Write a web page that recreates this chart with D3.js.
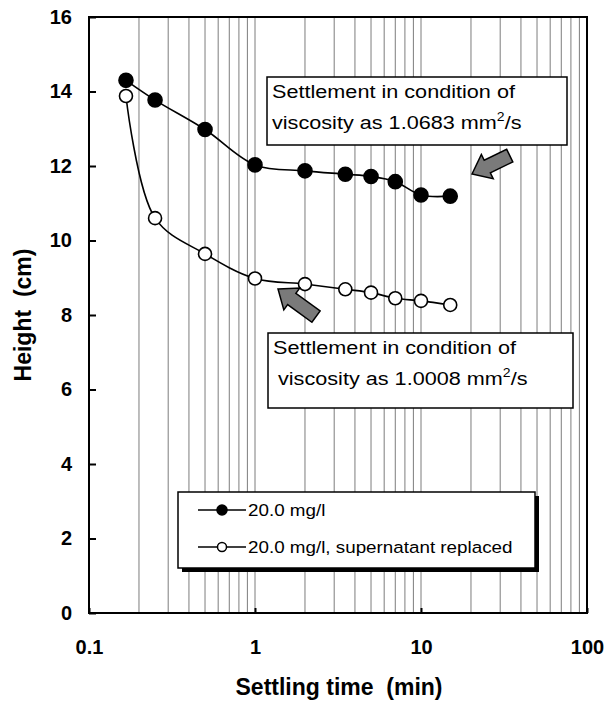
<!DOCTYPE html>
<html>
<head>
<meta charset="utf-8">
<script src="https://cdn.jsdelivr.net/npm/d3@7"></script>
<style>
  body { margin: 0; background: #fff; }
  text { font-family: "Liberation Sans", Arial, sans-serif; }
  .tick text { font-weight: bold; font-size: 20px; }
</style>
</head>
<body>
<div id="canvas"></div>
<script>
"use strict"
// canvas size
let svgWidth = 606;
let svgHeight = 703;

// plot box (in px)
let margin = { top: 17, right: 19, bottom: 90, left: 89 };

// data
let timeMin = [0.167, 0.25, 0.5, 1, 2, 3.5, 5, 7, 10, 15];
let heightNormal = [14.3, 13.77, 12.98, 12.03, 11.87, 11.78, 11.72, 11.58, 11.22, 11.19];
let heightReplaced = [13.88, 10.6, 9.64, 8.98, 8.83, 8.69, 8.6, 8.45, 8.38, 8.27];
let seriesNames = ["20.0 mg/l", "20.0 mg/l, supernatant replaced"];
let xTickValues = [0.1, 1, 10, 100];
let yTickValues = [0, 2, 4, 6, 8, 10, 12, 14, 16];

let svg = d3.select("#canvas")
    .append("svg")
    .attr("width", svgWidth)
    .attr("height", svgHeight);

let w = svgWidth - margin.left - margin.right;
let h = svgHeight - margin.top - margin.bottom;

let xScale = d3.scaleLog().domain([0.1, 100]).range([margin.left, margin.left + w]);
let yScale = d3.scaleLinear().domain([0, 16]).range([margin.top + h, margin.top]);

// vertical grid at every minor log step
let gridValues = [];
[0.1, 1, 10].forEach(function(dec) {
    for (let k = 2; k <= 9; k++) gridValues.push(dec * k);
});
gridValues.push(1, 10);

svg.append("g")
    .selectAll("line")
    .data(gridValues)
    .join("line")
    .attr("x1", d => xScale(d)).attr("x2", d => xScale(d))
    .attr("y1", margin.top).attr("y2", margin.top + h)
    .attr("stroke", "#6e6e6e")
    .attr("stroke-width", 0.9);

// axes: ticks point inward
let xAxis = d3.axisBottom(xScale)
    .tickValues(xTickValues)
    .tickSize(-5)
    .tickPadding(27)
    .tickFormat(d3.format("~g"));
let gx = svg.append("g")
    .attr("transform", "translate(0," + (margin.top + h) + ")")
    .call(xAxis);

let yAxis = d3.axisLeft(yScale)
    .tickValues(yTickValues)
    .tickSize(-7)
    .tickPadding(17);
let gy = svg.append("g")
    .attr("transform", "translate(" + margin.left + ",0)")
    .call(yAxis);

[gx, gy].forEach(function(g) {
    g.select(".domain").remove();
    g.selectAll(".tick line").attr("stroke", "#000").attr("stroke-width", 2);
    g.selectAll(".tick text").attr("fill", "#000");
});

// plot frame
svg.append("rect")
    .attr("x", margin.left).attr("y", margin.top)
    .attr("width", w).attr("height", h)
    .attr("fill", "none")
    .attr("stroke", "#000")
    .attr("stroke-width", 2);

// axis titles
svg.append("text")
    .attr("x", 339)
    .attr("y", 695)
    .attr("text-anchor", "middle")
    .style("font-weight", "bold")
    .style("font-size", "23px")
    .style("white-space", "pre")
    .text("Settling time  (min)");

svg.append("text")
    .attr("transform", "translate(31," + (margin.top + h / 2) + ") rotate(-90)")
    .attr("text-anchor", "middle")
    .style("font-weight", "bold")
    .style("font-size", "23px")
    .style("white-space", "pre")
    .text("Height  (cm)");

// smoothed lines like the spreadsheet ones
let line = d3.line()
    .x(d => xScale(d[0]))
    .y(d => yScale(d[1]))
    .curve(d3.curveCatmullRom.alpha(0.5));

let ptsNormal = timeMin.map((t, i) => [t, heightNormal[i]]);
let ptsReplaced = timeMin.map((t, i) => [t, heightReplaced[i]]);

[ptsNormal, ptsReplaced].forEach(function(pts, s) {
    svg.append("path")
        .datum(pts)
        .attr("d", line)
        .attr("fill", "none")
        .attr("stroke", "#000")
        .attr("stroke-width", 1.6);

    svg.append("g")
        .selectAll("circle")
        .data(pts)
        .join("circle")
        .attr("cx", d => xScale(d[0]))
        .attr("cy", d => yScale(d[1]))
        .attr("r", s == 0 ? 7 : 6.5)
        .attr("fill", s == 0 ? "#000" : "#fff")
        .attr("stroke", "#000")
        .attr("stroke-width", 1.6);
});

// text that looks a bit wide, like in the scanned figure
function wideText(x, y, size, sx) {
    return svg.append("text")
        .attr("transform", "translate(" + x + "," + y + ") scale(" + sx + ",1)")
        .style("font-size", size + "px");
}

// annotation boxes
function noteBox(x, y, bw, bh, line1, line2, indent2, num) {
    svg.append("rect")
        .attr("x", x).attr("y", y)
        .attr("width", bw).attr("height", bh)
        .attr("fill", "#fff")
        .attr("stroke", "#000")
        .attr("stroke-width", 1.5);
    wideText(x + 5, y + 21, 18.5, 1.17).text(line1);
    let t = wideText(x + 5 + indent2, y + 52, 18.5, 1.17);
    t.append("tspan").text(line2 + num + " mm");
    t.append("tspan").attr("dy", -8).style("font-size", "12px").text("2");
    t.append("tspan").attr("dy", 8).text("/s");
}
noteBox(267, 77, 300, 68, "Settlement in condition of", "viscosity as ", 0, "1.0683");
noteBox(268, 333, 305, 75, "Settlement in condition of", "viscosity as ", 5, "1.0008");

// block arrows
function blockArrow(tipX, tipY, angleDeg, len) {
    let hl = 17, hw = 27, bw = 14;
    let pts = [[0, 0], [-hl, hw / 2], [-hl, bw / 2], [-len, bw / 2], [-len, -bw / 2], [-hl, -bw / 2], [-hl, -hw / 2]];
    svg.append("polygon")
        .attr("points", pts.map(p => p.join(",")).join(" "))
        .attr("transform", "translate(" + tipX + "," + tipY + ") rotate(" + angleDeg + ")")
        .attr("fill", "#7a7a7a")
        .attr("stroke", "#000")
        .attr("stroke-width", 1.5);
}
blockArrow(472, 174, 154, 42);
blockArrow(278, 289, 216, 47);

// legend
let lg = { x: 178, y: 492, w: 357, h: 76 };
svg.append("rect")
    .attr("x", lg.x + 4).attr("y", lg.y + 4)
    .attr("width", lg.w).attr("height", lg.h)
    .attr("fill", "#000");
svg.append("rect")
    .attr("x", lg.x).attr("y", lg.y)
    .attr("width", lg.w).attr("height", lg.h)
    .attr("fill", "#fff")
    .attr("stroke", "#000")
    .attr("stroke-width", 1.5);

seriesNames.forEach(function(name, i) {
    let ly = lg.y + 18 + i * 37;
    svg.append("line")
        .attr("x1", lg.x + 20).attr("x2", lg.x + 68)
        .attr("y1", ly).attr("y2", ly)
        .attr("stroke", "#000").attr("stroke-width", 1.6);
    svg.append("circle")
        .attr("cx", lg.x + 44).attr("cy", ly)
        .attr("r", i == 0 ? 5 : 4.5)
        .attr("fill", i == 0 ? "#000" : "#fff")
        .attr("stroke", "#000").attr("stroke-width", 1.5);
    wideText(lg.x + 70, ly + 6, 16.5, 1.14).text(name);
});
</script>
</body>
</html>
